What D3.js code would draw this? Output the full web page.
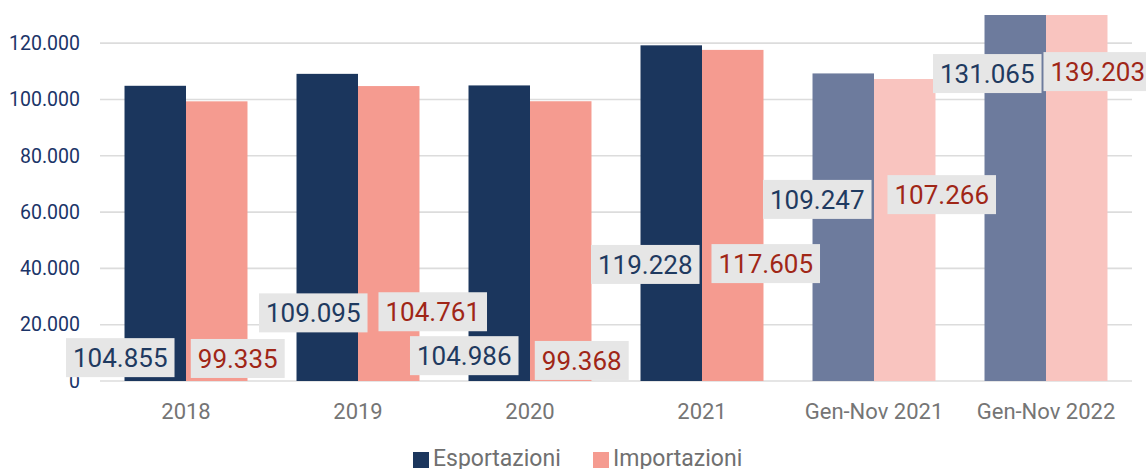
<!DOCTYPE html>
<html>
<head>
<meta charset="utf-8">
<script src="https://cdn.jsdelivr.net/npm/d3@7"></script>
<style>
  body { margin: 0; background: #fff; }
  svg { display: block; font-family: Roboto, "Noto Sans", sans-serif; }
</style>
</head>
<body>
<div id="chart"></div>
<script>
// data (milioni di euro)
var categories = ["2018", "2019", "2020", "2021", "Gen-Nov 2021", "Gen-Nov 2022"];
var esportazioni = [104855, 109095, 104986, 119228, 109247, 131065];
var importazioni = [99335, 104761, 99368, 117605, 107266, 139203];
var yTicks = [0, 20000, 40000, 60000, 80000, 100000, 120000];
var seriesNames = ["Esportazioni", "Importazioni"];

// where the value boxes sit (value at box centre, horizontal shift from bar centre)
var expLabelAt = [8300, 24200, 9000, 41400, 64500, 109200];
var impLabelAt = [8000, 24600, 7300, 41700, 66200, 109900];
var expLabelDx = [-35, -14, -35, -26, -26, -28];
var impLabelDx = [21, 44, 21, 33, 37, 21];

var W = 1146, H = 469;
var margin = {top: 15, left: 100, right: 14, bottom: 88};
var plotW = W - margin.left - margin.right,
    plotH = H - margin.top - margin.bottom;

var it = d3.formatLocale({decimal: ",", thousands: ".", grouping: [3], currency: ["", "€"]});
var fmt = it.format(",d");

var svg = d3.select("#chart")
  .append("svg")
    .attr("width", W)
    .attr("height", H);

var g = svg.append("g")
    .attr("transform", "translate(" + margin.left + "," + margin.top + ")");

var x0 = d3.scaleBand()
    .domain(categories)
    .range([0, plotW])
    .paddingInner(0.285)
    .paddingOuter(0.1425);

var x1 = d3.scaleBand()
    .domain(seriesNames)
    .range([0, x0.bandwidth()]);

var y = d3.scaleLinear()
    .domain([0, 130000])
    .range([plotH, 0]);

// colours: full years dark, partial periods lighter
var expColor = ["#1b365d", "#1b365d", "#1b365d", "#1b365d", "#6d7b9d", "#6d7b9d"];
var impColor = ["#f59b90", "#f59b90", "#f59b90", "#f59b90", "#f9c4bf", "#f9c4bf"];

// gridlines
g.append("g")
  .selectAll("line")
  .data(yTicks)
  .enter()
  .append("line")
    .attr("x1", 0)
    .attr("x2", plotW)
    .attr("y1", function(d) { return y(d); })
    .attr("y2", function(d) { return y(d); })
    .attr("stroke", "#dcdcdc")
    .attr("stroke-width", 1.6);

// y axis labels
var yAxis = g.append("g")
    .call(d3.axisLeft(y).tickValues(yTicks).tickFormat(fmt).tickSize(0).tickPadding(20));
yAxis.select(".domain").remove();
yAxis.selectAll("text")
    .attr("fill", "#1b3468")
    .style("font-size", "19.5px")
    .style("font-family", "Roboto");

// x axis labels
var xAxis = g.append("g")
    .attr("transform", "translate(0," + plotH + ")")
    .call(d3.axisBottom(x0).tickSize(0).tickPadding(22));
xAxis.select(".domain").remove();
xAxis.selectAll("text")
    .attr("fill", "#757575")
    .style("font-size", "22px")
    .style("font-family", "Roboto");

// bars (clipped at the top of the plot)
svg.append("clipPath").attr("id", "plotclip")
  .append("rect")
    .attr("x", 0).attr("y", 0)
    .attr("width", plotW).attr("height", plotH);

var bars = g.append("g").attr("clip-path", "url(#plotclip)");

bars.selectAll("rect.exp")
    .data(esportazioni)
    .enter()
    .append("rect")
      .attr("class", "exp")
      .attr("x", function(d, i) { return x0(categories[i]) + x1("Esportazioni"); })
      .attr("y", function(d) { return y(d); })
      .attr("width", x1.bandwidth())
      .attr("height", function(d) { return plotH - y(d); })
      .style("fill", function(d, i) { return expColor[i]; });

bars.selectAll("rect.imp")
    .data(importazioni)
    .enter()
    .append("rect")
      .attr("class", "imp")
      .attr("x", function(d, i) { return x0(categories[i]) + x1("Importazioni"); })
      .attr("y", function(d) { return y(d); })
      .attr("width", x1.bandwidth())
      .attr("height", function(d) { return plotH - y(d); })
      .style("fill", function(d, i) { return impColor[i]; });

// value boxes
function addLabels(values, at, dx, series, textColor) {
  var lab = g.append("g")
    .selectAll("g")
    .data(values)
    .enter()
    .append("g")
      .attr("transform", function(d, i) {
        var cx = x0(categories[i]) + x1(series) + x1.bandwidth() / 2 + dx[i];
        return "translate(" + cx + "," + y(at[i]) + ")";
      });
  var bg = lab.append("rect").attr("fill", "#e6e6e6");
  var txt = lab.append("text")
      .attr("text-anchor", "middle")
      .attr("y", 9.5)
      .attr("fill", textColor)
      .style("font-size", "26px")
      .style("font-family", "Roboto")
      .text(function(d) { return fmt(d); });
  txt.each(function(d, i) {
    var w = this.getComputedTextLength() + 14;
    d3.select(this.parentNode).select("rect")
      .attr("x", -w / 2)
      .attr("y", -19.5)
      .attr("width", w)
      .attr("height", 39);
  });
}
addLabels(esportazioni, expLabelAt, expLabelDx, "Esportazioni", "#1f3a60");
addLabels(importazioni, impLabelAt, impLabelDx, "Importazioni", "#a02617");

// legend
var legendColors = ["#1b365d", "#f59b90"];
var legendX = [413, 593];
var legend = svg.append("g")
  .selectAll("g")
  .data(seriesNames)
  .enter()
  .append("g")
    .attr("transform", function(d, i) { return "translate(" + legendX[i] + ",452)"; });
legend.append("rect")
    .attr("width", 16)
    .attr("height", 16)
    .attr("fill", function(d, i) { return legendColors[i]; });
legend.append("text")
    .attr("x", 20)
    .attr("y", 14)
    .attr("fill", "#707070")
    .style("font-size", "23px")
    .style("font-family", "Roboto")
    .text(function(d) { return d; });
</script>
</body>
</html>
